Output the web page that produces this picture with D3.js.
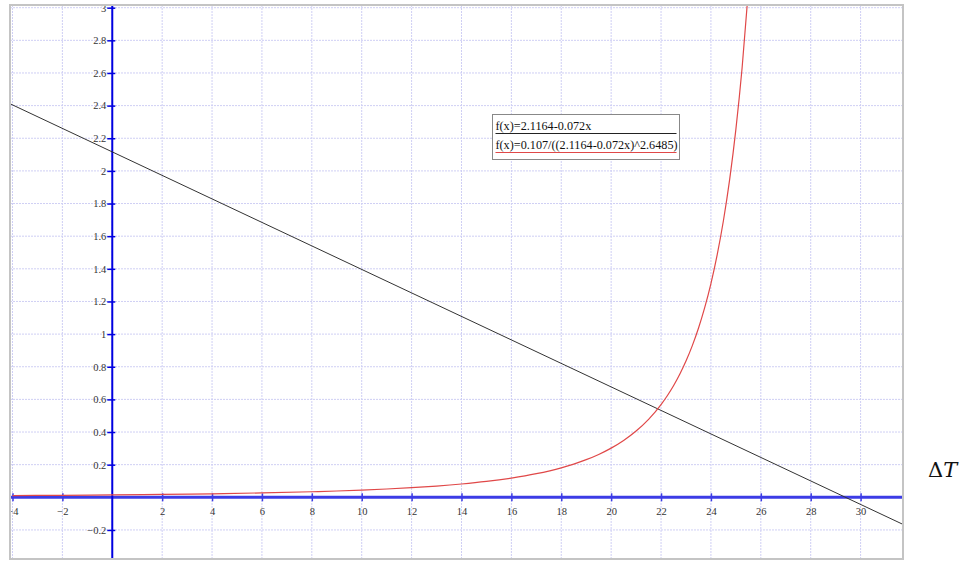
<!DOCTYPE html>
<html>
<head>
<meta charset="utf-8">
<script src="https://cdn.jsdelivr.net/npm/d3@7"></script>
<style>
  html, body { margin: 0; padding: 0; background: #fff; }
  svg { display: block; }
</style>
</head>
<body>
<svg id="chart" width="968" height="561"></svg>
<script>
// Tick positions for both axes
const xTickValues = [-4, -2, 2, 4, 6, 8, 10, 12, 14, 16, 18, 20, 22, 24, 26, 28, 30];
const yTickValues = [-0.2, 0.2, 0.4, 0.6, 0.8, 1, 1.2, 1.4, 1.6, 1.8, 2, 2.2, 2.4, 2.6, 2.8, 3];

// Linear fit f(x)=2.1164-0.072x, endpoints beyond the visible range
const lineX = [-4.2, 32];
const lineY = [2.4188, -0.1876];

// f(x)=0.107/((2.1164-0.072x)^2.6485), sampled values
const curveX = [-4, -2, 0, 2, 4, 6, 8, 9, 10, 11, 12, 13, 14, 15, 16, 17, 18, 18.5, 19, 19.5, 20, 20.5, 21, 21.5, 22, 22.25, 22.5, 22.75, 23, 23.25, 23.5, 23.75, 24, 24.25, 24.5, 24.75, 25, 25.25, 25.5];
const curveY = [0.0105, 0.0123, 0.0147, 0.0177, 0.0216, 0.0269, 0.0341, 0.0387, 0.0442, 0.0508, 0.0590, 0.0690, 0.0815, 0.0973, 0.1178, 0.1447, 0.1808, 0.2036, 0.2306, 0.2627, 0.3014, 0.3483, 0.4060, 0.4777, 0.5682, 0.6224, 0.6837, 0.7542, 0.8347, 0.9278, 1.0357, 1.1617, 1.3097, 1.4854, 1.6947, 1.9470, 2.2545, 2.6320, 3.1050];

// Legend entries
const legendLabels = ["f(x)=2.1164-0.072x", "f(x)=0.107/((2.1164-0.072x)^2.6485)"];
const legendColors = ["#222222", "#e04848"];

const svg = d3.select("#chart");
const frame = { left: 10, top: 5, right: 903, bottom: 559 };

const x = d3.scaleLinear().domain([-4.1, 31.7]).range([frame.left, frame.right]);
const y = d3.scaleLinear().domain([-0.378, 3.0165]).range([frame.bottom, frame.top]);

svg.append("defs").append("clipPath").attr("id", "plotClip")
  .append("rect")
  .attr("x", frame.left).attr("y", frame.top)
  .attr("width", frame.right - frame.left).attr("height", frame.bottom - frame.top);

const plot = svg.append("g").attr("clip-path", "url(#plotClip)");

// Dotted grid
const gridX = d3.range(-4, 32, 2);
const gridY = d3.range(-2, 16).map(d => d / 5);
plot.append("g").selectAll("line").data(gridX).join("line")
  .attr("x1", d => x(d)).attr("x2", d => x(d))
  .attr("y1", frame.top).attr("y2", frame.bottom)
  .attr("stroke", "#cfcff4").attr("stroke-width", 1).attr("stroke-dasharray", "2,1");
plot.append("g").selectAll("line").data(gridY).join("line")
  .attr("x1", frame.left).attr("x2", frame.right)
  .attr("y1", d => y(d)).attr("y2", d => y(d))
  .attr("stroke", "#cfcff4").attr("stroke-width", 1).attr("stroke-dasharray", "2,1");

// Axes through the origin
const fmt = d => d3.format("~g")(d);
const xAxis = plot.append("g")
  .attr("transform", `translate(0,${y(0)})`)
  .call(d3.axisBottom(x).tickValues(xTickValues).tickFormat(fmt).tickSize(4).tickPadding(6));
xAxis.select(".domain").attr("stroke", "#3c3ce6").attr("stroke-width", 3)
  .attr("d", `M${frame.left},0H${frame.right}`);
xAxis.selectAll(".tick line").attr("y1", -4).attr("y2", 4).attr("stroke", "#3c3ce6").attr("stroke-width", 1.5);
xAxis.selectAll(".tick text").attr("fill", "#333").attr("font-family", "Liberation Serif, serif").attr("font-size", 10.5);

const yAxis = plot.append("g")
  .attr("transform", `translate(${x(0)},0)`)
  .call(d3.axisLeft(y).tickValues(yTickValues).tickFormat(fmt).tickSize(5).tickPadding(1));
yAxis.select(".domain").attr("stroke", "#0000e0").attr("stroke-width", 2)
  .attr("d", `M0,${frame.top}V${frame.bottom}`);
yAxis.selectAll(".tick line").attr("x1", -5).attr("x2", 3).attr("stroke", "#0000e0").attr("stroke-width", 1.5);
yAxis.selectAll(".tick text").attr("fill", "#333").attr("font-family", "Liberation Serif, serif").attr("font-size", 10.5);

// Linear fit
plot.append("path")
  .datum(lineX.map((d, i) => [d, lineY[i]]))
  .attr("fill", "none").attr("stroke", "#333").attr("stroke-width", 1)
  .attr("d", d3.line().x(d => x(d[0])).y(d => y(d[1])));

// Power curve
plot.append("path")
  .datum(curveX.map((d, i) => [d, curveY[i]]))
  .attr("fill", "none").attr("stroke", "#e04848").attr("stroke-width", 1.2)
  .attr("d", d3.line().curve(d3.curveMonotoneX).x(d => x(d[0])).y(d => y(d[1])));

// Legend
const legend = svg.append("g").attr("transform", "translate(492.5,114.5)");
legend.append("rect").attr("width", 187).attr("height", 45)
  .attr("fill", "#fff").attr("stroke", "#888").attr("stroke-width", 1);
legendLabels.forEach((t, i) => {
  legend.append("text").attr("x", 3).attr("y", 15 + i * 19.5)
    .attr("font-family", "Liberation Serif, serif").attr("font-size", 12.2).attr("fill", "#111")
    .text(t);
  legend.append("line").attr("x1", 3).attr("x2", 184)
    .attr("y1", 19 + i * 19).attr("y2", 19 + i * 19)
    .attr("stroke", legendColors[i]).attr("stroke-width", 1.2);
});

// Frame
svg.append("rect")
  .attr("x", frame.left).attr("y", frame.top)
  .attr("width", frame.right - frame.left).attr("height", frame.bottom - frame.top)
  .attr("fill", "none").attr("stroke", "#c4c4c4").attr("stroke-width", 2);

// Axis caption
const cap = svg.append("text").attr("x", 928).attr("y", 477)
  .attr("font-family", "DejaVu Serif, serif").attr("font-size", 21).attr("fill", "#111");
cap.append("tspan").text("Δ");
cap.append("tspan").attr("font-style", "italic").text("T");
</script>
</body>
</html>
